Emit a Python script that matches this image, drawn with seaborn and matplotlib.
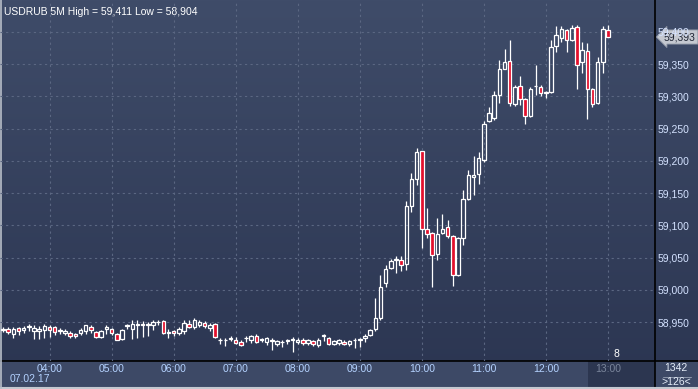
import numpy as np
import pandas as pd
import seaborn as sns
import matplotlib.pyplot as plt
from matplotlib.colors import LinearSegmentedColormap
from matplotlib.patches import Rectangle

# ---------------------------------------------------------------
# USDRUB 5M candles, 07.02.17, 03:15 .. 13:00
# ---------------------------------------------------------------
START = "2017-02-07 03:15"

opens = [
    58938, 58939, 58931, 58941, 58938, 58943, 58937, 58937, 58938, 58942,
    58942, 58937, 58933, 58933.5, 58931, 58933, 58937, 58943, 58935, 58927,
    58939, 58939, 58931, 58924, 58944, 58940, 58945, 58948, 58945, 58945.5,
    58950, 58951.5, 58934, 58936, 58934, 58936.5, 58948, 58942, 58946, 58949,
    58941, 58947, 58923, 58922, 58924, 58923, 58919, 58925, 58922, 58928,
    58923, 58919.5, 58923, 58916, 58919, 58921, 58923, 58919.5, 58923, 58918,
    58921, 58914, 58929, 58925, 58916, 58918, 58919.5, 58917, 58922, 58923,
    58925, 58930, 58939, 58956, 59010.5, 59034, 59047, 59046, 59041, 59130.6,
    59172, 59215, 59094, 59089, 59056.5, 59089, 59097, 59084, 59024, 59080,
    59141, 59175, 59179.5, 59201, 59262.5, 59266, 59303, 59343, 59355, 59288,
    59316, 59296, 59270, 59316, 59314, 59307, 59307, 59379, 59390, 59403,
    59388, 59407.6, 59354, 59371, 59311, 59290, 59353, 59403,
]
highs = [
    58942, 58942, 58942, 58942, 58944, 58947, 58945, 58944, 58947, 58945,
    58944, 58941, 58939, 58937, 58933, 58941, 58946, 58945, 58937, 58938,
    58945, 58941, 58933, 58940, 58948, 58954, 58953, 58952, 58950, 58953,
    58953, 58953, 58939, 58938, 58943, 58953, 58954, 58957, 58954, 58952,
    58949, 58949, 58926, 58926, 58929, 58927, 58922, 58928, 58930, 58931,
    58926, 58927, 58925, 58923, 58922, 58924, 58927, 58926, 58925, 58924,
    58923, 58926, 58932, 58927, 58922, 58924, 58922, 58923, 58925, 58926,
    58931, 58940, 58987, 59024, 59038, 59048, 59052, 59052, 59138, 59182,
    59220, 59216, 59127, 59090, 59111, 59118.5, 59108, 59085, 59082, 59155,
    59186, 59207, 59214, 59262, 59283, 59309, 59356.6, 59374, 59387.6, 59318,
    59332, 59297, 59314, 59349, 59318, 59309, 59387, 59410, 59410, 59405,
    59411, 59411, 59384, 59383, 59313, 59361, 59410, 59411,
]
lows = [
    58935, 58931, 58925, 58930, 58934, 58936, 58924, 58924, 58925, 58927,
    58930, 58932, 58930, 58926, 58925, 58930, 58931, 58934, 58926, 58926,
    58932, 58930, 58922, 58923, 58940, 58924, 58926, 58927, 58929, 58938,
    58945, 58932, 58925, 58928, 58930, 58932, 58941, 58940, 58943, 58941,
    58936, 58926, 58917, 58913, 58921, 58916, 58913, 58920, 58918, 58918,
    58920, 58915, 58907, 58913, 58912, 58916, 58904, 58917, 58915, 58915,
    58913, 58912, 58921, 58914, 58914, 58915, 58914, 58913, 58910, 58911,
    58920, 58928, 58937, 58954, 59004, 59032, 59026, 59030, 59030.6, 59121,
    59162, 59065, 59080, 59005, 59047, 59087, 59081, 59006, 59021, 59070,
    59139, 59148, 59165, 59198, 59261, 59264, 59290, 59342, 59285, 59285,
    59287, 59257, 59268, 59302, 59301, 59298, 59306, 59369, 59384, 59369,
    59386, 59312, 59337, 59265, 59284, 59288, 59336, 59392,
]
closes = [
    58940, 58934.5, 58940, 58937, 58941, 58944, 58941, 58940, 58944, 58938,
    58935, 58938, 58936.5, 58928, 58928, 58937.5, 58945, 58938, 58927, 58936,
    58942, 58933, 58923, 58937.5, 58946, 58948, 58948, 58945, 58948, 58951,
    58951, 58933.5, 58935, 58933, 58940, 58949.5, 58943, 58954, 58951, 58944,
    58946, 58927, 58922, 58923, 58925, 58918, 58915, 58925.5, 58928, 58919.5,
    58924, 58926, 58921, 58921, 58920, 58921.5, 58924, 58923, 58918, 58922,
    58916, 58923, 58930, 58916, 58921, 58922, 58917, 58921, 58922.5, 58924,
    58928, 58938, 58956, 59004, 59032, 59045, 59048, 59038, 59130.6, 59172,
    59214, 59095, 59087.5, 59055, 59087.5, 59095, 59083, 59024, 59081, 59141,
    59179, 59179, 59204, 59258, 59275, 59302, 59342, 59353.5, 59290.5, 59314,
    59296.6, 59269, 59312, 59317, 59305, 59306, 59377, 59395, 59404, 59388,
    59406, 59349, 59371.4, 59312, 59289, 59354, 59404, 59393,
]

y_ticks = [58950, 59000, 59050, 59100, 59150, 59200, 59250, 59300, 59350, 59400]
hour_labels = ["04:00", "05:00", "06:00", "07:00", "08:00",
               "09:00", "10:00", "11:00", "12:00", "13:00"]
title = "USDRUB 5M High = 59,411 Low = 58,904"
last_price = "59,393"

df = pd.DataFrame({"open": opens, "high": highs, "low": lows, "close": closes})
df["time"] = pd.date_range(START, periods=len(df), freq="5min")
df["idx"] = np.arange(len(df))
df["up"] = df["close"] >= df["open"]

# ---------------------------------------------------------------
W, H = 698, 389
FS = 7.5
sns.set_style("dark")
plt.rcParams["font.family"] = ["Liberation Sans", "DejaVu Sans"]

fig = plt.figure(figsize=(W / 100, H / 100), dpi=100)

# full-figure background in pixel coords (y measured from bottom)
bg = fig.add_axes([0, 0, 1, 1], zorder=-10)
grad_cmap = LinearSegmentedColormap.from_list("bg", ["#3f4c69", "#2b3551"])
bg.imshow(np.linspace(0, 1, 256).reshape(-1, 1), cmap=grad_cmap,
          extent=[0, W, 0, H], aspect="auto", origin="upper")
bg.set_xlim(0, W)
bg.set_ylim(0, H)
bg.axis("off")

# bottom strip, darker "current" box and corner box
bg.add_patch(Rectangle((0, 0), 655, 28, color="#3d4966", lw=0))
bg.add_patch(Rectangle((588, 0), 67, 28, color="#2c3650", lw=0))
bg.add_patch(Rectangle((655, 0), 43, 28, color="#3d4966", lw=0))
bg.plot([0, W], [28, 28], color="black", lw=1.2)
bg.plot([655, 655], [0, H], color="black", lw=1.2)
bg.plot([0, W], [1, 1], color="#c4c8d0", lw=1.5)
bg.plot([0.8, 0.8], [0, H], color="#b8bec8", lw=1.2)
bg.plot([663, 691], [12.5, 12.5], color="#8d97ab", lw=0.7)

# main price axes
ax = fig.add_axes([0, 28 / H, 655 / W, 361 / H])
ax.patch.set_visible(False)

up_col, down_col, line_col = "none", "#e3102c", "white"
body_w = 0.68
for _, r in df.iterrows():
    top = max(r["open"], r["close"])
    bot = min(r["open"], r["close"])
    h = max(top - bot, 0.8)
    ax.vlines(r["idx"], top, r["high"], color=line_col, lw=0.9, zorder=3)
    ax.vlines(r["idx"], r["low"], bot, color=line_col, lw=0.9, zorder=3)
    ax.bar(r["idx"], h, bottom=bot, width=body_w,
           facecolor=up_col if r["up"] else down_col,
           edgecolor=line_col, linewidth=0.9, zorder=4)

ax.set_xlim(-0.58, 126.1)
ax.set_ylim(58889.9, 59449.6)

hour_pos = [int(np.where(df["time"].dt.strftime("%H:%M") == h)[0][0]) for h in hour_labels]
ax.set_xticks(hour_pos)
ax.set_xticklabels(hour_labels)
ax.set_yticks(y_ticks)
ax.set_yticklabels([f"{v:,.0f}" for v in y_ticks])
ax.yaxis.tick_right()
ax.tick_params(axis="x", length=0, pad=2.5, labelsize=FS, colors="#b4d2ff")
ax.tick_params(axis="y", length=0, pad=2.2, labelsize=FS, colors="#d4e2ff")
ax.get_xticklabels()[-1].set_color("#7a859b")
ax.grid(True, color="#5b6782", lw=0.8, ls=(0, (2, 3)))
for s in ax.spines.values():
    s.set_visible(False)

# texts
bg.text(4, H - 12, title, color="white", fontsize=FS, va="center", ha="left")
bg.text(10, H - 379, "07.02.17", color="#b4d2ff", fontsize=FS, va="center", ha="left")
bg.text(616, H - 354, "8", color="white", fontsize=FS, va="center", ha="center")
bg.text(676, H - 368, "1342", color="#e4ecf8", fontsize=FS, va="center", ha="center")
bg.text(676, H - 382, ">126<", color="#e4ecf8", fontsize=FS, va="center", ha="center")
bg.text(664, H - 37, last_price, color="#1e2433", fontsize=FS, va="center", ha="left",
        zorder=10,
        bbox=dict(boxstyle="larrow,pad=0.2", fc="#c4c8d0", ec="#8a92a2", lw=0.6))

fig.savefig("out.png", dpi=100)
